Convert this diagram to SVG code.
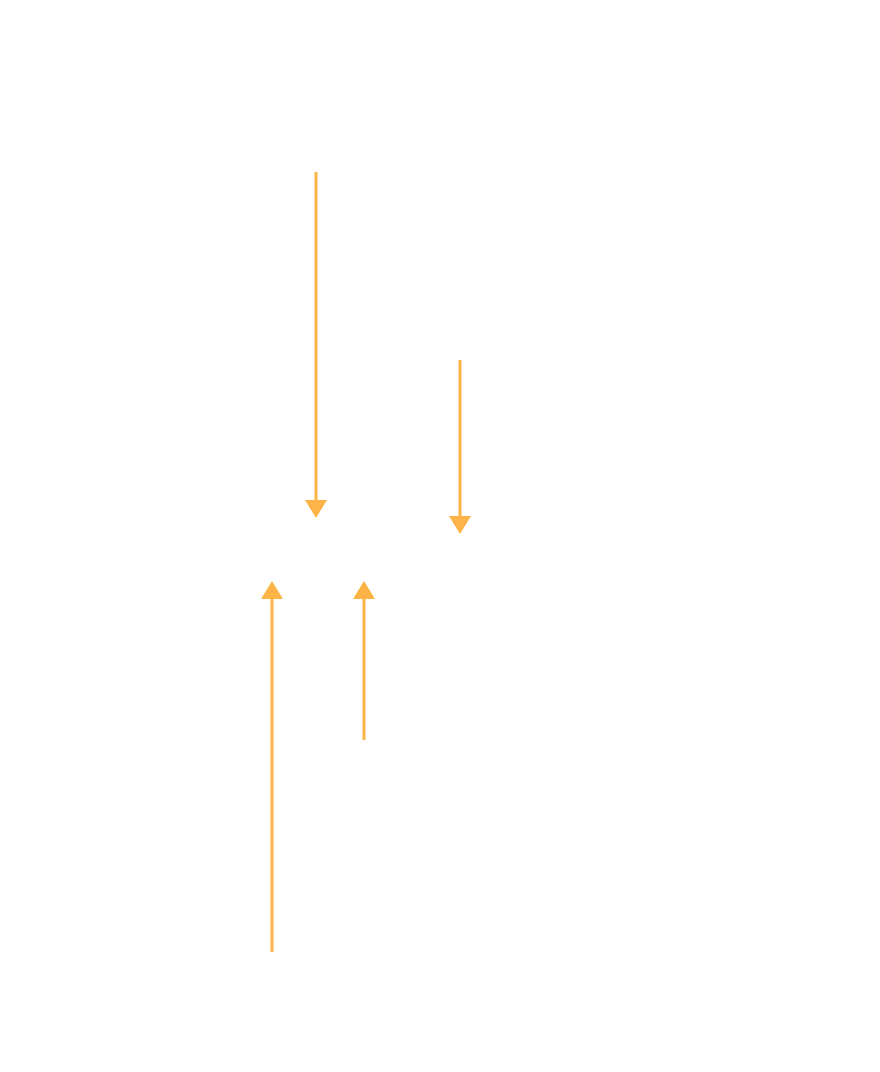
<svg xmlns="http://www.w3.org/2000/svg" width="880" height="1072" viewBox="0 0 880 1072">
  <style>
    .conn { fill: none; stroke: #FDB446; stroke-width: 3; }
  </style>
  <defs>
    <marker id="arrow" viewBox="0 0 18 22" markerUnits="userSpaceOnUse" markerWidth="18" markerHeight="22" refX="0" refY="11" orient="auto">
      <path d="M0,0 L18,11 L0,22 z" fill="#FDB446"/>
    </marker>
  </defs>
  <rect width="880" height="1072" fill="#FFFFFF"/>
  <g id="connectors">
    <path id="c1" class="conn" d="M316,172 V500" marker-end="url(#arrow)"/>
    <path id="c2" class="conn" d="M460,360 V516" marker-end="url(#arrow)"/>
    <path id="c3" class="conn" d="M272,952 V599" marker-end="url(#arrow)"/>
    <path id="c4" class="conn" d="M364,740 V599" marker-end="url(#arrow)"/>
  </g>
</svg>
